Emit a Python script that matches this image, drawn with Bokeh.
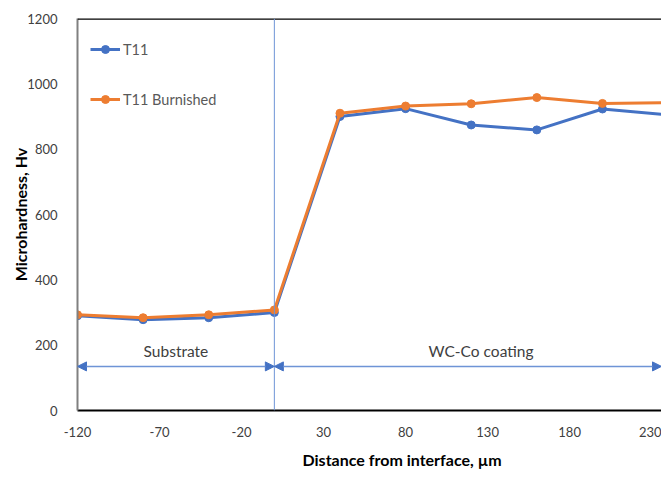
from bokeh.plotting import figure
from bokeh.models import (Range1d, FixedTicker, Span, Arrow, NormalHead, Label,
                          Legend, LegendItem, Title)
from bokeh.embed import file_html
from bokeh.resources import INLINE

# ---- data ----
distance = [-120, -80, -40, 0, 40, 80, 120, 160, 200, 240]
t11 = [290, 278, 284, 300, 900, 924, 874, 859, 923, 905]
t11_burnished = [293, 284, 293, 308, 910, 932, 939, 958, 940, 942]
x_ticks = [-120, -70, -20, 30, 80, 130, 180, 230]
x_tick_labels = ["-120", "-70", "-20", "30", "80", "130", "180", "230"]
y_ticks = [0, 200, 400, 600, 800, 1000, 1200]
interface = 0
region_names = ["Substrate", "WC-Co coating"]

FONT = "Lato"
BLUE = "#4472C4"
ORANGE = "#ED7D31"
ANN = "#6E94D6"

p = figure(width=661, height=480, output_backend="svg", toolbar_location=None,
           x_range=Range1d(-120, 236), y_range=Range1d(0, 1200),
           min_border_left=77, min_border_right=0, min_border_top=18,
           min_border_bottom=69)
p.outline_line_color = None
p.xgrid.grid_line_color = None
p.ygrid.grid_line_color = None
p.background_fill_color = "white"
p.border_fill_color = "white"

# axes
p.xaxis.ticker = FixedTicker(ticks=x_ticks)
p.xaxis.major_label_overrides = {t: s for t, s in zip(x_ticks, x_tick_labels)}
p.yaxis.ticker = FixedTicker(ticks=y_ticks)
for ax in (p.xaxis[0], p.yaxis[0]):
    ax.major_tick_line_color = None
    ax.minor_tick_line_color = None
    ax.major_label_text_font = FONT
    ax.major_label_text_font_size = "13px"
    ax.major_label_text_color = "#404040"
p.xaxis.axis_line_color = "black"
p.xaxis.axis_line_width = 2
p.xaxis.major_label_standoff = 10
p.yaxis.axis_line_color = "#808080"
p.yaxis.axis_line_width = 2
p.yaxis.major_label_standoff = 14
p.yaxis.axis_label = "Microhardness, Hv"
p.yaxis.axis_label_text_font = FONT
p.yaxis.axis_label_text_font_style = "bold"
p.yaxis.axis_label_text_font_size = "16px"
p.yaxis.axis_label_text_color = "black"
p.yaxis.axis_label_standoff = -6

# x axis title (centred on the original, wider plot area)
p.add_layout(Title(text="Distance from interface, µm", align="left", offset=225,
                   standoff=20, vertical_align="top", text_font=FONT,
                   text_font_style="bold", text_font_size="16px",
                   text_color="black"), "below")

# top border
p.add_layout(Span(location=1200, dimension="width", line_color="black", line_width=2.5))

# interface line
p.add_layout(Span(location=interface, dimension="height", line_color=ANN, line_width=1))

# region arrows
arrow_y = 135
p.add_layout(Arrow(x_start=distance[0], y_start=arrow_y, x_end=interface, y_end=arrow_y,
                   line_color=ANN, line_width=1.5,
                   start=NormalHead(size=9, fill_color=BLUE, line_color=BLUE),
                   end=NormalHead(size=9, fill_color=BLUE, line_color=BLUE)))
p.add_layout(Arrow(x_start=interface, y_start=arrow_y, x_end=236, y_end=arrow_y,
                   line_color=ANN, line_width=1.5,
                   start=NormalHead(size=9, fill_color=BLUE, line_color=BLUE),
                   end=NormalHead(size=9, fill_color=BLUE, line_color=BLUE)))
p.add_layout(Label(x=-60, y=181, text=region_names[0], text_align="center",
                   text_baseline="middle", text_font=FONT, text_font_size="15.5px",
                   text_color="#404040"))
p.add_layout(Label(x=126, y=181, text=region_names[1], text_align="center",
                   text_baseline="middle", text_font=FONT, text_font_size="15.5px",
                   text_color="#404040"))

# series
l1 = p.line(distance, t11, line_color=BLUE, line_width=3)
c1 = p.scatter(distance, t11, size=8, fill_color=BLUE, line_color=BLUE)
l2 = p.line(distance, t11_burnished, line_color=ORANGE, line_width=3)
c2 = p.scatter(distance, t11_burnished, size=8, fill_color=ORANGE, line_color=ORANGE)

legend = Legend(items=[LegendItem(label="T11", renderers=[l1, c1]),
                       LegendItem(label="T11 Burnished", renderers=[l2, c2])],
                location=(13, 301), padding=0, margin=0, spacing=30,
                glyph_width=30, glyph_height=20, label_height=20,
                label_standoff=3, border_line_color=None,
                background_fill_alpha=0,
                label_text_font=FONT, label_text_font_size="14.5px",
                label_text_color="#595959")
p.add_layout(legend)

open("out.html", "w").write(file_html(p, INLINE))
